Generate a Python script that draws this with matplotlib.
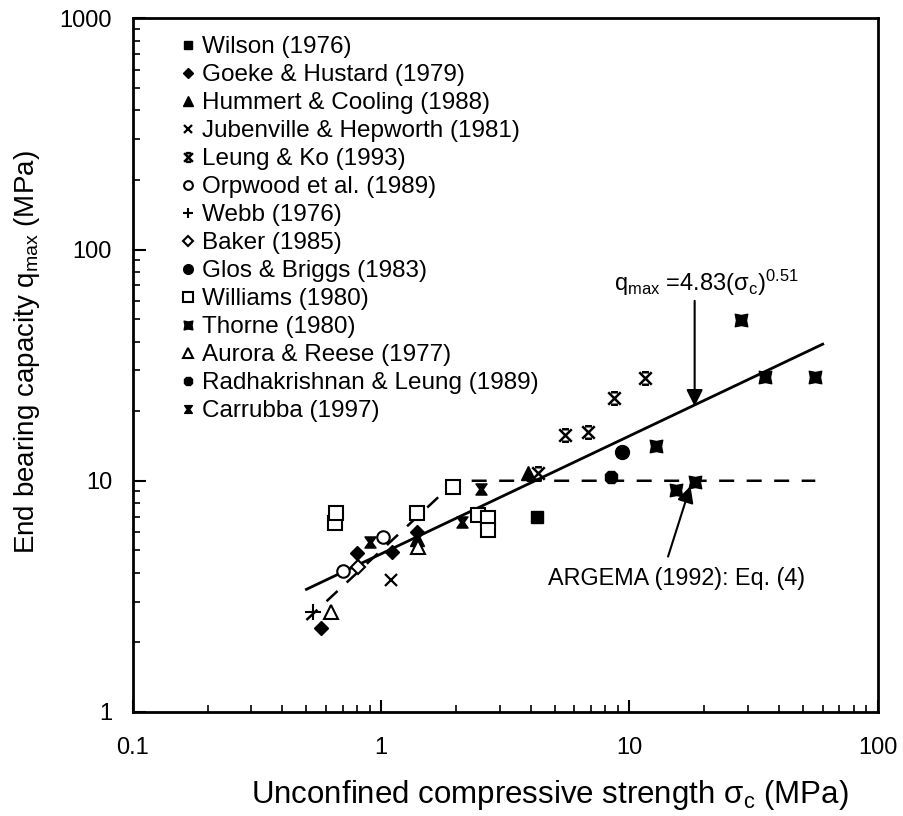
import numpy as np
import matplotlib.pyplot as plt
from matplotlib.path import Path

plt.rcParams['font.family'] = ['Liberation Sans', 'DejaVu Sans']
plt.rcParams['mathtext.fontset'] = 'custom'
plt.rcParams['mathtext.rm'] = 'Liberation Sans'
plt.rcParams['mathtext.it'] = 'Liberation Sans:italic'
plt.rcParams['mathtext.default'] = 'rm'

# Data (sigma_c in MPa, q_max in MPa)
wilson_x = [4.24]
wilson_y = [6.95]
goeke_x = [0.57, 0.80, 1.11, 1.40]
goeke_y = [2.3, 4.86, 4.9, 6.0]
hummert_x = [1.40, 3.9]
hummert_y = [5.6, 10.8]
jubenville_x = [1.10]
jubenville_y = [3.72]
leung_x = [4.3, 5.5, 6.8, 8.7, 11.5]
leung_y = [10.8, 15.7, 16.2, 22.9, 27.7]
orpwood_x = [0.70, 1.02]
orpwood_y = [4.06, 5.70]
webb_x = [0.53]
webb_y = [2.70]
baker_x = [0.81]
baker_y = [4.23]
glos_x = [9.3]
glos_y = [13.3]
williams_x = [0.65, 0.66, 1.40, 1.94, 2.46, 2.69, 2.69]
williams_y = [6.55, 7.24, 7.24, 9.37, 7.10, 6.89, 6.11]
thorne_x = [12.8, 15.4, 18.3, 28.0, 35.0, 56.0]
thorne_y = [14.2, 9.1, 9.86, 49.4, 28.0, 28.0]
aurora_x = [0.63, 1.41]
aurora_y = [2.70, 5.17]
radha_x = [8.4]
radha_y = [10.4]
carrubba_x = [0.90, 2.11, 2.52]
carrubba_y = [5.42, 6.6, 9.2]

# fitted relation q = 4.83 * sigma^0.51
fit_coef = 4.83
fit_exp = 0.51
fit_x = np.array([0.5, 60.0])
fit_y = fit_coef * fit_x ** fit_exp

# ARGEMA (1992) Eq. (4)
argema_x = [0.5, 2.0, 56.0]
argema_y = [2.5, 10.0, 10.0]

# custom markers
leung_marker = Path(
    [(-1, -1), (1, 1), (-1, 1), (1, -1), (-0.55, 1), (0.55, 1), (-0.55, -1), (0.55, -1)],
    [Path.MOVETO, Path.LINETO, Path.MOVETO, Path.LINETO,
     Path.MOVETO, Path.LINETO, Path.MOVETO, Path.LINETO])
thorne_marker = Path(
    [(-1, -1), (0, -0.8), (1, -1), (0.8, 0), (1, 1), (0, 0.8), (-1, 1), (-0.8, 0), (-1, -1)],
    [Path.MOVETO] + [Path.LINETO] * 7 + [Path.CLOSEPOLY])
carrubba_marker = Path(
    [(-1, 1), (1, 1), (0.3, 0), (1, -1), (-1, -1), (-0.3, 0), (-1, 1)],
    [Path.MOVETO] + [Path.LINETO] * 5 + [Path.CLOSEPOLY])

series = [
    ("Wilson (1976)", wilson_x, wilson_y, dict(marker='s', ms=8, mfc='k')),
    ("Goeke & Hustard (1979)", goeke_x, goeke_y, dict(marker='D', ms=7, mfc='k')),
    ("Hummert & Cooling (1988)", hummert_x, hummert_y, dict(marker='^', ms=10, mfc='k')),
    ("Jubenville & Hepworth (1981)", jubenville_x, jubenville_y, dict(marker='x', ms=9, mew=1.6)),
    ("Leung & Ko (1993)", leung_x, leung_y, dict(marker=leung_marker, ms=9, mew=1.8, mfc='none')),
    ("Orpwood et al. (1989)", orpwood_x, orpwood_y, dict(marker='o', ms=9, mfc='white', mew=1.5)),
    ("Webb (1976)", webb_x, webb_y, dict(marker='+', ms=11, mew=1.5)),
    ("Baker (1985)", baker_x, baker_y, dict(marker='D', ms=7, mfc='white', mew=1.5)),
    ("Glos & Briggs (1983)", glos_x, glos_y, dict(marker='o', ms=10, mfc='k')),
    ("Williams (1980)", williams_x, williams_y, dict(marker='s', ms=9.5, mfc='white', mew=1.5)),
    ("Thorne (1980)", thorne_x, thorne_y, dict(marker=thorne_marker, ms=9, mfc='k')),
    ("Aurora & Reese (1977)", aurora_x, aurora_y, dict(marker='^', ms=10, mfc='white', mew=1.5)),
    ("Radhakrishnan & Leung (1989)", radha_x, radha_y, dict(marker='8', ms=10, mfc='k')),
    ("Carrubba (1997)", carrubba_x, carrubba_y, dict(marker=carrubba_marker, ms=8, mfc='k')),
]

fig = plt.figure(figsize=(9.04, 8.16), dpi=100)
ax = fig.add_axes([0.147, 0.1275, 0.824, 0.85])

ax.plot(fit_x, fit_y, color='k', lw=2.0, zorder=2)
ax.plot(argema_x, argema_y, color='k', lw=1.8, ls=(0, (6, 5)), zorder=2)

handles = []
for label, xs, ys, style in series:
    h, = ax.plot(xs, ys, ls='none', color='k', mec='k', label=label, zorder=3, **style)
    handles.append(h)

ax.set_xscale('log')
ax.set_yscale('log')
ax.set_xlim(0.1, 100)
ax.set_ylim(1, 1000)
ax.set_xticks([0.1, 1, 10, 100])
ax.set_xticklabels(['0.1', '1', '10', '100'])
ax.set_yticks([1, 10, 100, 1000])
ax.set_yticklabels(['1', '10', '100', '1000'])
ax.tick_params(which='both', direction='in', top=False, right=False, labelsize=17)
ax.tick_params(which='major', length=9, width=1.5)
ax.tick_params(which='minor', length=5, width=1.2)
ax.tick_params(axis='y', pad=15)
ax.tick_params(axis='x', pad=18)
for sp in ax.spines.values():
    sp.set_linewidth(2.0)

ax.set_xlabel(r"Unconfined compressive strength $\sigma_{\rm c}$ (MPa)", fontsize=22.5)
ax.xaxis.set_label_coords(0.56, -0.095)
ax.set_ylabel(r"End bearing capacity q$_{\rm max}$ (MPa)", fontsize=20)
ax.yaxis.set_label_coords(-0.122, 0.519)

leg = ax.legend(handles=handles, loc='upper left', bbox_to_anchor=(0.045, 0.995),
                frameon=False, fontsize=17.5, markerscale=0.7, handlelength=0.55,
                handletextpad=0.33, labelspacing=0.245, borderaxespad=0.2)

ax.annotate("", xy=(18.3, 21.0), xytext=(18.3, 60.0),
            arrowprops=dict(arrowstyle='-|>', color='k', lw=1.5, mutation_scale=25,
                            shrinkA=0, shrinkB=0))
ax.text(8.7, 66.0, r"q$_{\rm max}$ =4.83($\sigma_{\rm c}$)$^{0.51}$", fontsize=17,
        ha='left', va='baseline')

ax.annotate("", xy=(17.6, 9.5), xytext=(14.3, 4.7),
            arrowprops=dict(arrowstyle='-|>', color='k', lw=1.5, mutation_scale=25,
                            shrinkA=0, shrinkB=0))
ax.text(4.7, 3.78, "ARGEMA (1992): Eq. (4)", fontsize=16.8, ha='left', va='center')

fig.savefig('out.png', dpi=100)
